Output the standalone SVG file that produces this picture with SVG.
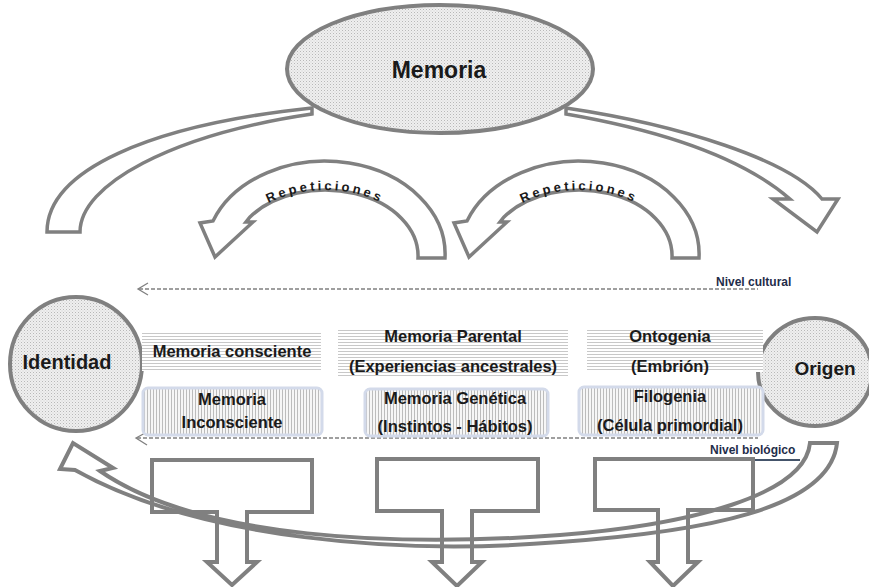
<svg xmlns="http://www.w3.org/2000/svg" width="869" height="587" viewBox="0 0 869 587">
<style>
.arr{fill:#fff;stroke:#808080;stroke-width:3.5;stroke-linejoin:miter}
.open{fill:none;stroke:#808080;stroke-width:4;stroke-linejoin:miter}
.circ{fill:url(#dots);stroke:#808080;stroke-width:4}
.t{font-family:"Liberation Sans",Arial,sans-serif;font-weight:bold;fill:#1a1a1a;text-anchor:middle}
.mid{font-size:16.5px}
.lvl{font-family:"Liberation Sans",Arial,sans-serif;font-weight:bold;font-size:12px;fill:#1f2d4a}
.rep{font-family:"Liberation Sans",Arial,sans-serif;font-weight:bold;font-size:13px;fill:#1a1a1a;letter-spacing:3px}
.dash{fill:none;stroke:#808080;stroke-width:1.3;stroke-dasharray:4 2}
.head{fill:none;stroke:#808080;stroke-width:1.3}
.hb{fill:url(#hl)}
.vb{fill:url(#vl);stroke:#d3daea;stroke-width:3}
</style>
<defs>
<pattern id="dots" width="3" height="3" patternUnits="userSpaceOnUse"><rect width="3" height="3" fill="#efefef"/><rect width="1" height="1" fill="#b8b8b8"/><rect x="1.5" y="1.5" width="1" height="1" fill="#cfcfcf"/></pattern>
<pattern id="hl" width="4" height="3" patternUnits="userSpaceOnUse"><rect width="4" height="3" fill="#fff"/><rect width="4" height="1" fill="#c8c8c8"/></pattern>
<pattern id="vl" width="3" height="4" patternUnits="userSpaceOnUse"><rect width="3" height="4" fill="#f6f6f6"/><rect width="1" height="4" fill="#bcbcbc"/></pattern>
<path id="rp1" d="M229,258 A96,68 0 0 1 421,258"/>
<path id="rp2" d="M483,258 A96,68 0 0 1 675,258"/>
</defs>

<g id="connectors">
  <path id="arc-left" class="arr" d="M47,232 C47,170 150,125 312,108 L312,114 C170,135 80,185 80,232 Z"/>
  <path id="arc-right" class="arr" d="M566,108 C680,125 790,160 822,199 L838,199 L817,232 L773,199 L790,199 C745,160 670,132 566,114 Z"/>
  <g id="rep1">
    <path class="arr" d="M445,258 A120,93 0 0 0 213,221 L200,223 L215,257 L253,222 L246,222 L250,217 A93,66 0 0 1 418,258 Z"/>
    <text class="rep"><textPath href="#rp1" startOffset="50%" text-anchor="middle">Repeticiones</textPath></text>
  </g>
  <g id="rep2">
    <path class="arr" d="M699,258 A120,93 0 0 0 467,221 L454,223 L469,257 L507,222 L500,222 L504,217 A93,66 0 0 1 672,258 Z"/>
    <text class="rep"><textPath href="#rp2" startOffset="50%" text-anchor="middle">Repeticiones</textPath></text>
  </g>
  <g id="cultural">
    <path class="dash" d="M139,289 H758"/>
    <path class="head" d="M148,283 L138,289 L148,295"/>
    <text class="lvl" x="716" y="286">Nivel cultural</text>
  </g>
  <g id="biologico">
    <path class="dash" d="M137,438 H758"/>
    <path class="head" d="M147,432 L136,438 L147,445"/>
    <text class="lvl" x="710" y="454">Nivel biológico</text>
    <path d="M702,460 H800" stroke="#44546a" stroke-width="2"/>
  </g>
  <path id="bottom-arc" class="open" d="M75,470 C200,540 400,555 560,542 C700,532 830,510 837,443 L810,443 C805,495 690,525 560,535 C400,547 200,540 100,471 L113,468 L73,443 L60,469 Z"/>
  <path id="t1" class="open" d="M152,460 H312 V512 H247 V562 H257 L232,585 L207,562 H217 V512 H152 Z"/>
  <path id="t2" class="open" d="M377,459 H538 V511 H472 V562 H482 L457,586 L432,562 H442 V511 H377 Z"/>
  <path id="t3" class="open" d="M595,459 H753 V510 H688 V562 H698 L673,586 L650,562 H658 V510 H595 Z"/>
</g>

<g id="memoria">
  <ellipse class="circ" cx="440" cy="69" rx="153" ry="64"/>
  <text class="t" x="439" y="78" font-size="23">Memoria</text>
</g>

<g id="identidad">
  <ellipse class="circ" cx="76" cy="364" rx="66" ry="67"/>
  <text class="t" x="67" y="369" font-size="20">Identidad</text>
</g>

<g id="origen">
  <ellipse class="circ" cx="815" cy="372" rx="57" ry="54"/>
  <text class="t" x="825" y="375" font-size="19">Origen</text>
</g>

<g id="consciente">
  <rect class="hb" x="142" y="332" width="179" height="39"/>
  <text class="t mid" x="232" y="357">Memoria consciente</text>
</g>
<g id="parental">
  <rect class="hb" x="338" y="330" width="230" height="48"/>
  <text class="t mid" x="453" y="342">Memoria Parental</text>
  <text class="t mid" x="453" y="372">(Experiencias ancestrales)</text>
</g>
<g id="ontogenia">
  <rect class="hb" x="587" y="330" width="176" height="42"/>
  <text class="t mid" x="670" y="342">Ontogenia</text>
  <text class="t mid" x="670" y="372">(Embrión)</text>
</g>
<g id="inconsciente">
  <rect class="vb" x="143" y="388" width="179" height="47" rx="5"/>
  <text class="t mid" x="232" y="405">Memoria</text>
  <text class="t mid" x="232" y="428">Inconsciente</text>
</g>
<g id="genetica">
  <rect class="vb" x="365" y="389" width="183" height="47" rx="5"/>
  <text class="t mid" x="455" y="404">Memoria Genética</text>
  <text class="t mid" x="455" y="432">(Instintos - Hábitos)</text>
</g>
<g id="filogenia">
  <rect class="vb" x="579" y="387" width="184" height="48" rx="5"/>
  <text class="t mid" x="670" y="402">Filogenia</text>
  <text class="t mid" x="670" y="431">(Célula primordial)</text>
</g>
</svg>
